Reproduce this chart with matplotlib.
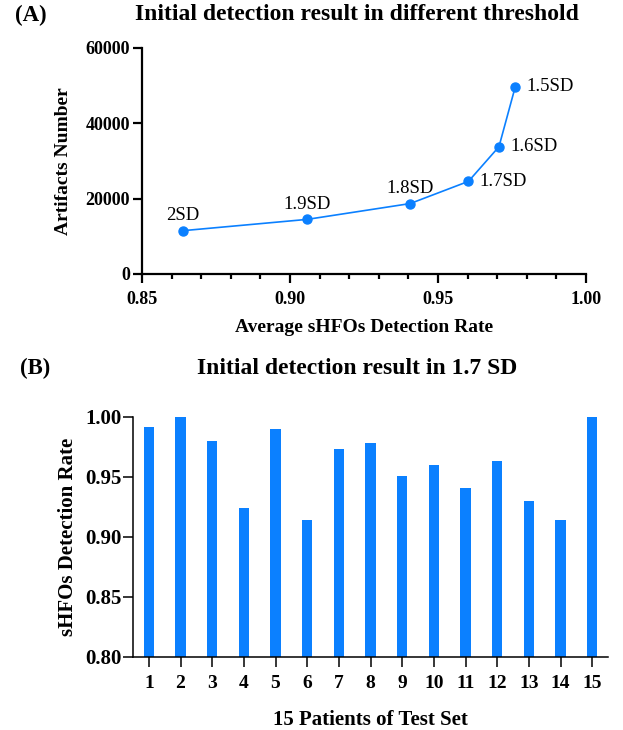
import matplotlib
matplotlib.use("Agg")
import matplotlib.pyplot as plt
from matplotlib.ticker import MultipleLocator

plt.rcParams['font.family'] = ['Liberation Serif', 'DejaVu Serif']

# panel A: threshold sweep
thresholds = ["2SD", "1.9SD", "1.8SD", "1.7SD", "1.6SD", "1.5SD"]
avg_rate = [0.8638, 0.9058, 0.9406, 0.9603, 0.9706, 0.9761]
artifacts = [11500, 14500, 18700, 24600, 33800, 49700]

# panel B: per-patient detection rate at 1.7 SD
patients = list(range(1, 16))
det_rate = [0.992, 1.000, 0.980, 0.924, 0.990, 0.914, 0.973, 0.978,
            0.951, 0.960, 0.941, 0.963, 0.930, 0.914, 1.000]

blue = '#0B80FF'

fig = plt.figure(figsize=(6.23, 7.30), dpi=100)

# ---- (A) ----
ax1 = fig.add_axes([142 / 623, 1 - 274 / 730, 444 / 623, 226 / 730])
ax1.plot(avg_rate, artifacts, color=blue, lw=1.2, marker='o', ms=6.5,
         clip_on=False, zorder=3)
for i, lab in enumerate(thresholds):
    if i < 3:
        ax1.annotate(lab, (avg_rate[i], artifacts[i]), xytext=(0, 4.5),
                     textcoords='offset points', ha='center', va='bottom',
                     fontsize=13.5)
    else:
        ax1.annotate(lab, (avg_rate[i], artifacts[i]), xytext=(8, 0),
                     textcoords='offset points', ha='left', va='center',
                     fontsize=13.5)

ax1.set_xlim(0.85, 1.00)
ax1.set_ylim(0, 60000)
ax1.xaxis.set_major_locator(MultipleLocator(0.05))
ax1.xaxis.set_minor_locator(MultipleLocator(0.01))
ax1.yaxis.set_major_locator(MultipleLocator(20000))
ax1.xaxis.set_major_formatter(plt.FormatStrFormatter('%.2f'))
for s in ['top', 'right']:
    ax1.spines[s].set_visible(False)
for s in ['left', 'bottom']:
    ax1.spines[s].set_linewidth(1.6)
ax1.tick_params(axis='both', which='major', length=6.5, width=1.6,
                labelsize=13)
ax1.tick_params(axis='x', which='minor', length=3.5, width=1.6)
ax1.tick_params(axis='x', which='major', pad=6)
ax1.tick_params(axis='y', which='major', pad=2)
for t in ax1.get_xticklabels() + ax1.get_yticklabels():
    t.set_fontweight('bold')
ax1.set_xlabel("Average sHFOs Detection Rate", fontsize=14, fontweight='bold')
ax1.set_ylabel("Artifacts Number", fontsize=14, fontweight='bold')
ax1.xaxis.set_label_coords(0.5, -0.20)
ax1.yaxis.set_label_coords(-0.158, 0.5)

fig.text(357 / 623, 1 - 15 / 730, "Initial detection result in different threshold",
         ha='center', va='center', fontsize=17, fontweight='bold')
fig.text(15 / 623, 1 - 15 / 730, "(A)", ha='left', va='center',
         fontsize=16.5, fontweight='bold')

# ---- (B) ----
ax2 = fig.add_axes([133 / 623, 1 - 657 / 730, 475 / 623, 240 / 730])
ax2.bar(patients, det_rate, width=0.33, color=blue, zorder=2)
ax2.set_xlim(0.5, 15.5)
ax2.set_ylim(0.80, 1.00)
ax2.set_xticks(patients)
ax2.yaxis.set_major_locator(MultipleLocator(0.05))
ax2.yaxis.set_major_formatter(plt.FormatStrFormatter('%.2f'))
for s in ['top', 'right']:
    ax2.spines[s].set_visible(False)
for s in ['left', 'bottom']:
    ax2.spines[s].set_linewidth(1.1)
ax2.tick_params(axis='y', length=7, width=1.1, labelsize=15, pad=1)
ax2.tick_params(axis='x', length=7, width=1.1, labelsize=14, pad=6)
for t in ax2.get_xticklabels() + ax2.get_yticklabels():
    t.set_fontweight('bold')
ax2.set_xlabel("15 Patients of Test Set", fontsize=15, fontweight='bold')
ax2.set_ylabel("sHFOs Detection Rate", fontsize=15, fontweight='bold')
ax2.xaxis.set_label_coords(0.5, -0.22)
ax2.yaxis.set_label_coords(-0.116, 0.5)

fig.text(357 / 623, 1 - 368 / 730, "Initial detection result in 1.7 SD",
         ha='center', va='center', fontsize=17, fontweight='bold')
fig.text(20 / 623, 1 - 368 / 730, "(B)", ha='left', va='center',
         fontsize=16.5, fontweight='bold')

fig.savefig("out.png", dpi=100)
